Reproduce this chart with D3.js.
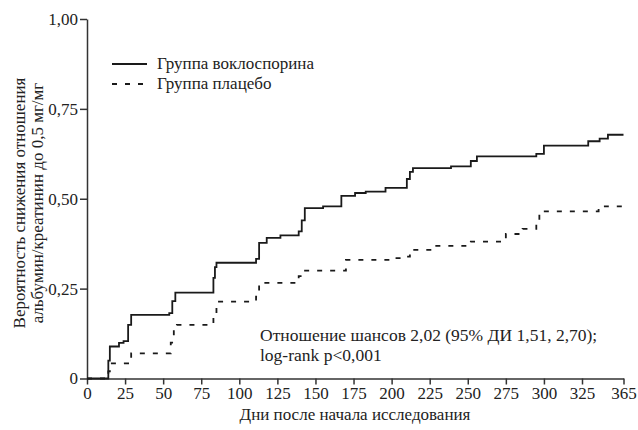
<!DOCTYPE html>
<html>
<head>
<meta charset="utf-8">
<script src="https://cdn.jsdelivr.net/npm/d3@7"></script>
<style>
    body { margin: 0; background: #fff; }
    svg text { font-family: "Liberation Serif", "Times New Roman", serif; fill: #222; }
    .axis path, .axis line { stroke: #333; stroke-width: 1.5; }
    .curve { fill: none; stroke: #1a1a1a; stroke-width: 1.8; }
</style>
</head>
<body>
<svg id="canvas" width="638" height="430"></svg>
<script>
// days and cumulative probability, voclosporin group
const vocDays = [0, 14, 15, 21, 24, 27, 29, 54, 56, 58, 83, 84, 85, 111, 113, 118, 127, 139, 141, 143,
    155, 167, 176, 183, 196, 210, 212, 214, 239, 252, 256, 295, 300, 331, 342, 350, 365];
const vocProb = [0, 0.05, 0.089, 0.099, 0.104, 0.149, 0.177, 0.182, 0.215, 0.239, 0.28, 0.31, 0.322, 0.333,
    0.377, 0.391, 0.398, 0.409, 0.44, 0.474, 0.479, 0.508, 0.516, 0.520, 0.530, 0.555, 0.575, 0.585,
    0.590, 0.605, 0.618, 0.625, 0.648, 0.660, 0.667, 0.678, 0.678];

// placebo group
const plaDays = [0, 14, 15, 27, 29, 55, 57, 59, 83, 85, 86, 111, 113, 139, 141, 170, 199, 207, 212, 228,
    252, 275, 286, 295, 297, 341, 347, 365];
const plaProb = [0, 0.02, 0.042, 0.055, 0.070, 0.10, 0.137, 0.149, 0.18, 0.205, 0.214, 0.228, 0.266, 0.285,
    0.300, 0.330, 0.335, 0.339, 0.358, 0.369, 0.381, 0.402, 0.416, 0.44, 0.465, 0.472, 0.479, 0.479];

const xTicks = [0, 25, 50, 75, 100, 125, 150, 175, 200, 225, 250, 275, 300, 325, 365];
const yTicks = [0, 0.25, 0.5, 0.75, 1];
const yTickLabels = ["0", "0,25", "0,50", "0,75", "1,00"];

const legendLabels = ["Группа воклоспорина", "Группа плацебо"];
const noteLines = ["Отношение шансов 2,02 (95% ДИ 1,51, 2,70);", "log-rank p<0,001"];
const xTitle = "Дни после начала исследования";
const yTitle = ["Вероятность снижения отношения", "альбумин/креатинин до 0,5 мг/мг"];

const DASH = "5,8";
const FONT = 17;

const svg = d3.select("#canvas");

// last interval on the original axis is squeezed (325 -> 365)
const x = d3.scaleLinear().domain([0, 325, 365]).range([87, 582, 623.5]);
const y = d3.scaleLinear().domain([0, 1]).range([378.5, 19]);

svg.append("g")
    .attr("class", "axis")
    .attr("transform", "translate(0," + y(0) + ")")
    .call(d3.axisBottom(x).tickValues(xTicks).tickSize(6).tickSizeOuter(0).tickPadding(2))
    .call(g => g.selectAll("text").attr("font-size", FONT).style("fill", "#222"));

svg.append("g")
    .attr("class", "axis")
    .attr("transform", "translate(" + x(0) + ",0)")
    .call(d3.axisLeft(y).tickValues(yTicks).tickSize(7).tickSizeOuter(0).tickPadding(2)
        .tickFormat((d, i) => yTickLabels[i]))
    .call(g => g.selectAll("text").attr("font-size", FONT).style("fill", "#222"));

function curve(days, probs) {
    return d3.line()
        .x(d => x(d[0]))
        .y(d => y(d[1]))
        .curve(d3.curveStepAfter)(d3.zip(days, probs));
}

svg.append("path")
    .attr("class", "curve")
    .attr("d", curve(plaDays, plaProb))
    .attr("stroke-dasharray", DASH);

svg.append("path")
    .attr("class", "curve")
    .attr("d", curve(vocDays, vocProb));

// legend
const legend = svg.append("g");
legendLabels.forEach((label, i) => {
    const ly = 64 + i * 20;
    legend.append("line")
        .attr("x1", 112).attr("x2", 147)
        .attr("y1", ly).attr("y2", ly)
        .attr("class", "curve")
        .attr("stroke-dasharray", i === 1 ? DASH : null);
    legend.append("text")
        .attr("x", 157).attr("y", ly + 5)
        .attr("font-size", FONT)
        .text(label);
});

// annotation
noteLines.forEach((line, i) => {
    svg.append("text")
        .attr("x", 260).attr("y", 341 + i * 20)
        .attr("font-size", 17.5)
        .text(line);
});

svg.append("text")
    .attr("x", 355).attr("y", 420)
    .attr("text-anchor", "middle")
    .attr("font-size", FONT)
    .text(xTitle);

yTitle.forEach((line, i) => {
    svg.append("text")
        .attr("transform", "translate(" + (25 + i * 18) + ",203) rotate(-90)")
        .attr("text-anchor", "middle")
        .attr("font-size", FONT)
        .text(line);
});
</script>
</body>
</html>
